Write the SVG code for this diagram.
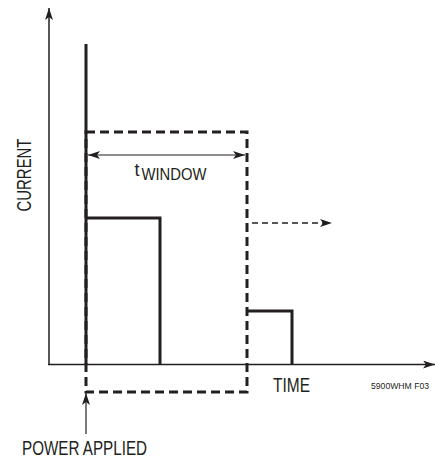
<svg xmlns="http://www.w3.org/2000/svg" width="435" height="458" viewBox="0 0 435 458">
<style>
.ax{stroke:#231f20;stroke-width:1.5;fill:none}
.thick{stroke:#231f20;stroke-width:3;fill:none}
.dash{stroke:#231f20;stroke-width:3;fill:none;stroke-dasharray:9 5}
.thin{stroke:#231f20;stroke-width:1.2;fill:none}
.tdash{stroke:#231f20;stroke-width:1.5;fill:none;stroke-dasharray:6 4}
.lbl{font-family:"Liberation Sans",Arial,sans-serif;fill:#231f20}
</style>
<defs>
<marker id="ah" viewBox="0 0 12 8" refX="12" refY="4" markerWidth="12" markerHeight="8" markerUnits="userSpaceOnUse" orient="auto-start-reverse">
<path d="M0,0 L12,4 L0,8 L3,4 Z" fill="#231f20"/>
</marker>
</defs>
<rect width="435" height="458" fill="#fff"/>
<g id="connectors">
<line id="y-axis" class="ax" x1="49" y1="364" x2="49" y2="8" marker-end="url(#ah)"/>
<line id="x-axis" class="ax" x1="48" y1="364.5" x2="435" y2="364.5" marker-end="url(#ah)"/>
<line id="twindow-arrow" class="thin" x1="88" y1="155" x2="245" y2="155" marker-start="url(#ah)" marker-end="url(#ah)"/>
<line id="extend-arrow" class="tdash" x1="252" y1="223" x2="332" y2="223" marker-end="url(#ah)"/>
<line id="power-arrow" class="thin" x1="86" y1="434" x2="86" y2="393" marker-end="url(#ah)"/>
</g>
<g id="window">
<rect class="dash" x="86" y="132" width="161" height="260"/>
</g>
<g id="current-trace">
<line class="thick" x1="86" y1="44" x2="86" y2="364"/>
<polyline class="thick" points="86,218 160,218 160,364"/>
<polyline class="thick" points="247,311 292,311 292,364"/>
</g>
<g id="labels">
<text class="lbl" font-size="19.5" transform="translate(31,175) rotate(-90)" text-anchor="middle" textLength="73" lengthAdjust="spacingAndGlyphs">CURRENT</text>
<text class="lbl" font-size="18" x="134.5" y="176">t</text>
<text class="lbl" font-size="16.5" x="141.5" y="180" textLength="65" lengthAdjust="spacingAndGlyphs">WINDOW</text>
<text class="lbl" font-size="19.5" x="273" y="392" textLength="37" lengthAdjust="spacingAndGlyphs">TIME</text>
<text class="lbl" font-size="9" x="371" y="388.5" textLength="58" lengthAdjust="spacingAndGlyphs">5900WHM F03</text>
<text class="lbl" font-size="19.5" x="22" y="455" textLength="125" lengthAdjust="spacingAndGlyphs">POWER APPLIED</text>
</g>
</svg>
